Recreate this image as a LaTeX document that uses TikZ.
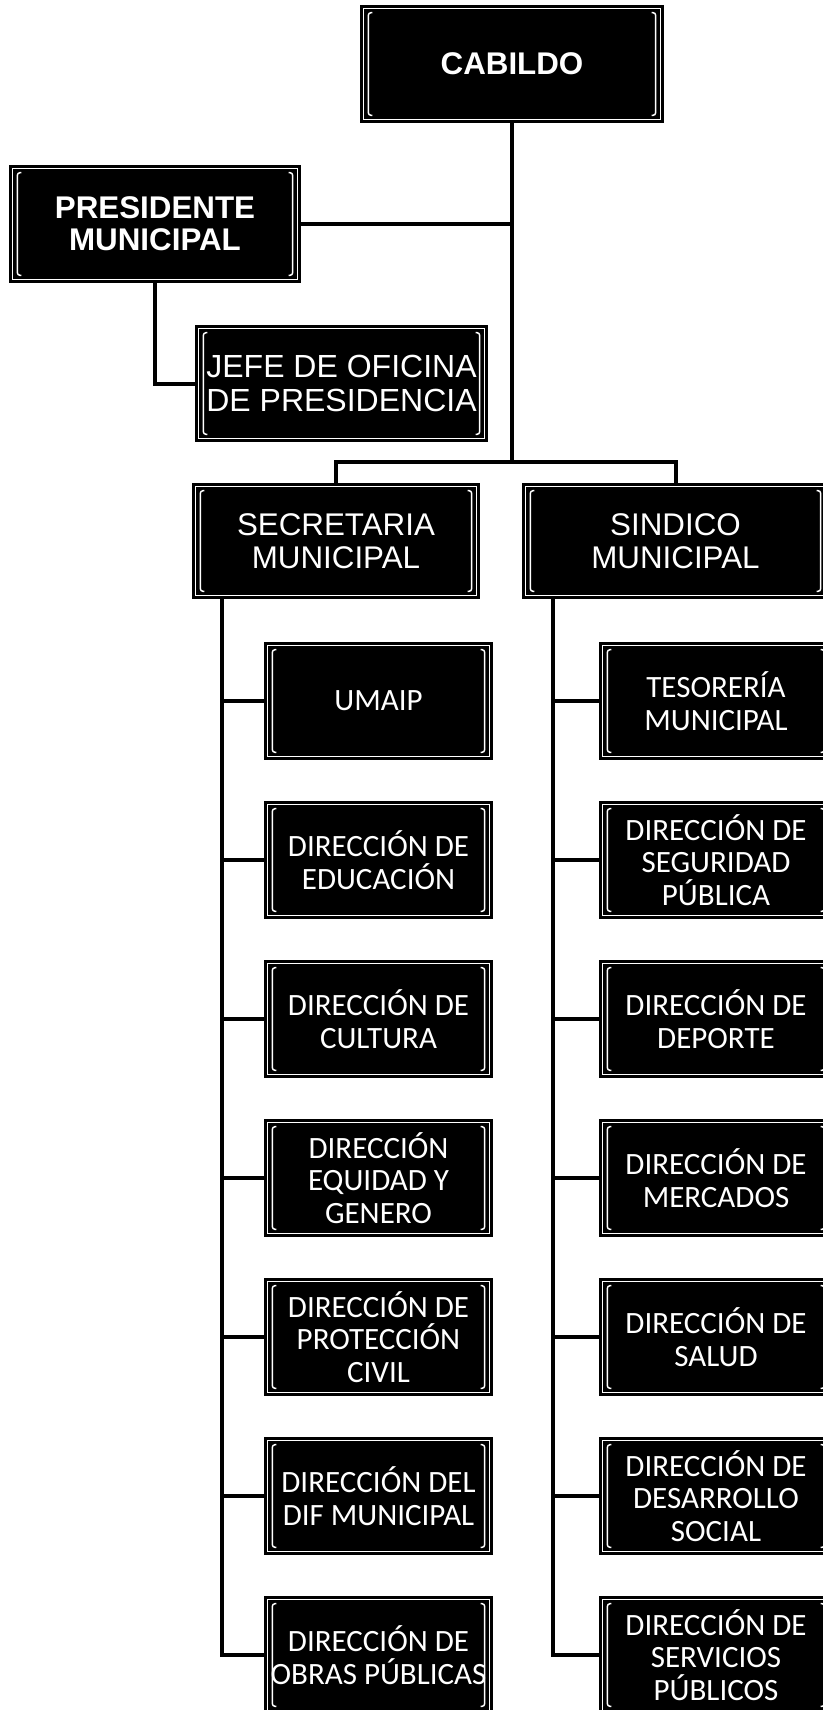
\documentclass[tikz,border=0pt]{standalone}
\usepackage{fontspec}
\setmainfont{Liberation Sans}
\newfontfamily\calfont{Carlito}
\tikzset{
  orgbox/.style={fill=black, draw=black, line width=1.2pt, inner sep=0pt, text=white, align=center,
    path picture={
      \draw[white, line width=0.8pt]
        ([shift={(2.2pt,-2.2pt)}]path picture bounding box.north west) rectangle
        ([shift={(-2.2pt,2.2pt)}]path picture bounding box.south east);
      \draw[white, line width=1.1pt, rounded corners=2pt]
        ([shift={(8.5pt,-5pt)}]path picture bounding box.north west) --
        ([shift={(5.5pt,-5pt)}]path picture bounding box.north west) --
        ([shift={(5.5pt,5pt)}]path picture bounding box.south west) --
        ([shift={(8.5pt,5pt)}]path picture bounding box.south west);
      \draw[white, line width=1.1pt, rounded corners=2pt]
        ([shift={(-8.5pt,-5pt)}]path picture bounding box.north east) --
        ([shift={(-5.5pt,-5pt)}]path picture bounding box.north east) --
        ([shift={(-5.5pt,5pt)}]path picture bounding box.south east) --
        ([shift={(-8.5pt,5pt)}]path picture bounding box.south east);
    }},
  topbold/.style={orgbox, font=\fontsize{23.5pt}{24pt}\selectfont\bfseries},
  topreg/.style={orgbox, font=\fontsize{23.5pt}{25pt}\selectfont},
  jefestyle/.style={orgbox, font=\fontsize{24pt}{25pt}\selectfont},
  lowbox/.style={orgbox, font=\calfont\fontsize{23.25pt}{24.5pt}\selectfont, minimum height=87pt},
  leftbox/.style={lowbox, minimum width=170.25pt},
  rightbox/.style={lowbox, minimum width=174pt},
  conn/.style={draw=black, line width=3pt}
}
\begin{document}
\begin{tikzpicture}[x=0.75pt, y=-0.75pt]
\useasboundingbox (0,0) rectangle (823,1710);
\fill[white] (0,0) rectangle (823,1710);

% top level
\node[topbold, minimum width=226.5pt, minimum height=87pt] (cab) at (512,64) {CABILDO};
\node[topbold, minimum width=217.5pt, minimum height=87pt] (pres) at (155,224) {PRESIDENTE\\MUNICIPAL};
\node[jefestyle, minimum width=218.25pt, minimum height=86.25pt] (jefe) at (341.5,383.5) {JEFE DE OFICINA\\DE PRESIDENCIA};
\node[topreg, minimum width=214.5pt, minimum height=85.5pt] (sec) at (336,541) {SECRETARIA\\MUNICIPAL};
\node[topreg, minimum width=228.75pt, minimum height=85.5pt] (sin) at (675.5,541) {SINDICO\\MUNICIPAL};

% left column
\node[leftbox] (l1) at (378.5,701) {UMAIP};
\node[leftbox] (l2) at (378.5,860) {DIRECCIÓN DE\\EDUCACIÓN};
\node[leftbox] (l3) at (378.5,1019) {DIRECCIÓN DE\\CULTURA};
\node[leftbox] (l4) at (378.5,1178) {DIRECCIÓN\\EQUIDAD Y\\GENERO};
\node[leftbox] (l5) at (378.5,1337) {DIRECCIÓN DE\\PROTECCIÓN\\CIVIL};
\node[leftbox] (l6) at (378.5,1496) {DIRECCIÓN DEL\\DIF MUNICIPAL};
\node[leftbox] (l7) at (378.5,1655) {DIRECCIÓN DE\\OBRAS PÚBLICAS};

% right column
\node[rightbox] (r1) at (716,701) {TESORERÍA\\MUNICIPAL};
\node[rightbox] (r2) at (716,860) {DIRECCIÓN DE\\SEGURIDAD\\PÚBLICA};
\node[rightbox] (r3) at (716,1019) {DIRECCIÓN DE\\DEPORTE};
\node[rightbox] (r4) at (716,1178) {DIRECCIÓN DE\\MERCADOS};
\node[rightbox] (r5) at (716,1337) {DIRECCIÓN DE\\SALUD};
\node[rightbox] (r6) at (716,1496) {DIRECCIÓN DE\\DESARROLLO\\SOCIAL};
\node[rightbox] (r7) at (716,1655) {DIRECCIÓN DE\\SERVICIOS\\PÚBLICOS};

% helper coordinates
\coordinate (brc) at (0,462);
\coordinate (lv) at (222,0);
\coordinate (rv) at (553,0);

% connectors
\draw[conn] (cab.south) -- (cab.south |- brc);
\draw[conn] (pres.east) -- (pres.east -| cab.south);
\draw[conn] (pres.south) |- (jefe.west);
\draw[conn] (sec.north) -- (sec.north |- brc) -- (sin.north |- brc) -- (sin.north);

\draw[conn] (sec.south -| lv) |- (l7.west);
\foreach \n in {l1,l2,l3,l4,l5,l6} {\draw[conn] (lv |- \n.west) -- (\n.west);}
\draw[conn] (sin.south -| rv) |- (r7.west);
\foreach \n in {r1,r2,r3,r4,r5,r6} {\draw[conn] (rv |- \n.west) -- (\n.west);}
\end{tikzpicture}
\end{document}
